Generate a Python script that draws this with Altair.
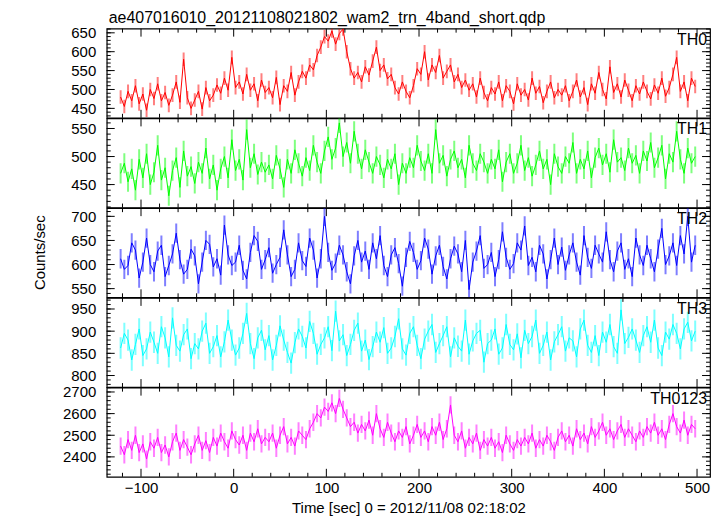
import altair as alt
import pandas as pd

TITLE = "ae407016010_20121108021802_wam2_trn_4band_short.qdp"
X_TITLE = "Time [sec] 0 = 2012/11/08 02:18:02"
Y_TITLE = "Counts/sec"

TIME = list(range(-122, 499, 4))
NAMES = ["TH0", "TH1", "TH2", "TH3", "TH0123"]
COLORS = ["#ff0000", "#00ff00", "#0000ff", "#00ffff", "#ff00ff"]

TH0 = [480, 455, 495, 470, 510, 462, 488, 445, 500, 476,
       515, 470, 492, 458, 485, 520, 466, 580, 478, 450,
       472, 495, 448, 505, 470, 485, 512, 490, 530, 498,
       585, 505, 520, 488, 540, 498, 515, 470, 525, 492,
       505, 478, 532, 460, 510, 495, 545, 485, 520, 548,
       530, 565, 552, 590, 612, 640, 628, 655, 620, 648,
       660, 600, 555, 530, 545, 520, 560, 538, 575, 612,
       550, 565, 528, 540, 505, 488, 520, 495, 478, 510,
       555, 540, 600, 525, 565, 545, 590, 530, 548, 565,
       520, 540, 505, 525, 498, 515, 480, 530, 492, 470,
       505, 488, 520, 470, 510, 495, 462, 515, 485, 500,
       472, 530, 490, 508, 465, 495, 520, 478, 500, 485,
       510, 470, 495, 525, 480, 505, 460, 515, 490, 545,
       500, 475, 560, 492, 515, 480, 525, 498, 470, 510,
       488, 520, 495, 475, 512, 490, 530, 482, 505, 540,
       585, 495, 520, 470, 530, 508]

TH1 = [470, 488, 455, 478, 440, 495, 462, 505, 450, 472,
       520, 458, 480, 430, 475, 498, 445, 510, 465, 482,
       452, 490, 470, 515, 460, 485, 440, 478, 500, 462,
       530, 475, 495, 458, 548, 480, 505, 468, 490, 472,
       485, 460, 502, 478, 445, 495, 470, 512, 488, 465,
       498, 475, 520, 490, 470, 510, 535, 495, 515, 560,
       500, 525, 488, 545, 505, 478, 512, 490, 470, 500,
       485, 462, 495, 478, 505, 450, 488, 470, 498, 480,
       520, 492, 475, 505, 470, 548, 488, 502, 465, 495,
       510, 480, 495, 462, 520, 488, 475, 505, 490, 470,
       495, 478, 512, 455, 490, 505, 470, 488, 520, 475,
       498, 465, 485, 510, 478, 495, 450, 505, 482, 470,
       500, 488, 525, 470, 495, 478, 510, 462, 498, 515,
       485, 505, 472, 530, 490, 498, 475, 515, 488, 502,
       470, 510, 492, 525, 480, 498, 520, 460, 505, 490,
       545, 495, 470, 515, 488, 500]

TH2 = [612, 590, 598, 645, 630, 572, 605, 655, 600, 585,
       628, 640, 575, 598, 622, 665, 610, 580, 590, 632,
       618, 560, 605, 650, 642, 595, 612, 578, 682, 620,
       598, 605, 640, 588, 570, 625, 660, 648, 590, 610,
       635, 582, 600, 615, 672, 620, 575, 590, 645, 608,
       596, 655, 630, 572, 612, 700, 625, 588, 603, 640,
       620, 585, 560, 618, 650, 605, 628, 590, 645, 612,
       660, 598, 575, 620, 635, 602, 555, 615, 648, 625,
       590, 608, 655, 632, 580, 618, 640, 596, 570, 612,
       638, 622, 585, 650, 548, 605, 628, 660, 592, 600,
       625, 575, 610, 668, 615, 590, 602, 645, 630, 680,
       598, 615, 585, 640, 622, 570, 610, 655, 600, 636,
       588, 620, 645, 605, 578, 660, 615, 592, 640, 622,
       605, 668, 610, 585, 628, 645, 590, 612, 575, 655,
       620, 598, 640, 612, 585, 632, 675, 600, 618, 645,
       598, 660, 622, 700, 605, 640]

TH3 = [862, 895, 880, 835, 870, 905, 845, 860, 898, 875,
       850, 910, 885, 842, 930, 868, 855, 892, 905, 838,
       872, 860, 900, 918, 850, 865, 890, 842, 876, 925,
       880, 846, 862, 895, 940, 872, 838, 885, 902, 858,
       890, 835, 868, 912, 880, 852, 828, 874, 905, 888,
       862, 922, 895, 848, 870, 885, 910, 856, 945, 878,
       892, 845, 870, 902, 918, 855, 880, 836, 865, 898,
       875, 908, 850, 862, 888, 928, 860, 846, 895, 910,
       868, 838, 882, 900, 915, 852, 872, 890, 910, 842,
       885, 866, 855, 925, 848, 878, 895, 902, 830, 872,
       880, 905, 848, 862, 915, 870, 858, 894, 840, 902,
       872, 888, 925, 850, 868, 898, 835, 876, 892, 910,
       855, 885, 878, 842, 905, 925, 868, 852, 890, 845,
       898, 875, 915, 865, 850, 948, 872, 886, 905, 880,
       852, 890, 910, 875, 925, 862, 845, 898, 882, 915,
       895, 860, 905, 920, 878, 900]

TH0123 = [2450, 2410, 2480, 2430, 2500, 2420, 2460, 2390, 2470, 2440,
          2490, 2420, 2455, 2400, 2470, 2510, 2430, 2480, 2445, 2410,
          2460, 2500, 2430, 2475, 2420, 2490, 2450, 2510, 2470, 2440,
          2520, 2480, 2455, 2500, 2430, 2510, 2470, 2530, 2460, 2490,
          2470, 2510, 2440, 2500, 2540, 2460, 2490, 2450, 2520, 2500,
          2480, 2530, 2560, 2600, 2580, 2630, 2610, 2650, 2600, 2670,
          2620, 2580, 2540, 2560, 2510, 2550, 2520, 2570, 2500, 2600,
          2530, 2490, 2560, 2510, 2470, 2520, 2490, 2540, 2460, 2500,
          2550, 2490, 2520, 2470, 2540, 2500, 2560, 2480, 2530, 2640,
          2500, 2470, 2520, 2440, 2490, 2460, 2510, 2430, 2480, 2450,
          2490, 2440, 2470, 2420, 2500, 2460, 2430, 2480, 2450, 2490,
          2460, 2510, 2440, 2480, 2450, 2500, 2470, 2430, 2490, 2520,
          2470, 2500, 2450, 2530, 2480, 2510, 2460, 2540, 2490, 2520,
          2560, 2500, 2530, 2480, 2520, 2550, 2490, 2530, 2500, 2470,
          2520, 2490, 2540, 2510, 2560, 2500, 2530, 2480, 2550, 2600,
          2540, 2510, 2570, 2500, 2550, 2530]

SERIES = [TH0, TH1, TH2, TH3, TH0123]
ERRORS = [18, 18, 20, 24, 40]

Y_DOMAINS = [[425, 661], [409, 568], [532, 717], [774, 975], [2308, 2720]]
Y_MAJOR = [[450, 500, 550, 600, 650], [450, 500, 550], [550, 600, 650, 700],
           [800, 850, 900, 950], [2400, 2500, 2600, 2700]]
Y_MINOR_STEP = [10, 10, 10, 10, 20]
X_DOMAIN = [-137, 514]
X_MAJOR = [-100, 0, 100, 200, 300, 400, 500]
X_MINOR = [v for v in range(-120, 501, 20) if v % 100 != 0]

W = 605
H = 89.4
FONT = "Liberation Sans"


def panel(k):
    vals = SERIES[k]
    err = ERRORS[k]
    df = pd.DataFrame({"t": TIME, "v": vals})
    df["lo"] = df["v"] - err
    df["hi"] = df["v"] + err
    lo_d, hi_d = Y_DOMAINS[k]
    xs = alt.Scale(domain=X_DOMAIN, nice=False, zero=False)
    ys = alt.Scale(domain=Y_DOMAINS[k], nice=False, zero=False)
    last = k == len(SERIES) - 1
    if last:
        xaxis = alt.Axis(values=X_MAJOR, ticks=False, domain=False, grid=False,
                         labelFontSize=15, labelPadding=4, labelColor="black",
                         labelFont=FONT, title=X_TITLE, titleFontSize=15,
                         titleFontWeight="normal", titleFont=FONT,
                         titleColor="black", titlePadding=5)
    else:
        xaxis = None
    yaxis = alt.Axis(values=Y_MAJOR[k], ticks=False, domain=False, grid=False,
                     labelFontSize=15, labelPadding=11, labelColor="black",
                     labelFont=FONT, title=None, format="d")
    base = alt.Chart(df)
    bars = base.mark_rule(color=COLORS[k], opacity=0.5, strokeWidth=2,
                          clip=True).encode(
        x=alt.X("t:Q", scale=xs, axis=xaxis),
        y=alt.Y("lo:Q", scale=ys, axis=yaxis),
        y2="hi:Q")
    line = base.mark_line(color=COLORS[k], strokeWidth=1, clip=True).encode(
        x=alt.X("t:Q", scale=xs, axis=None),
        y=alt.Y("v:Q", scale=ys, axis=None))

    layers = [bars, line]

    # inward ticks (y: left + right, x: top + bottom)
    step = Y_MINOR_STEP[k]
    start = (lo_d // step + 1) * step
    y_minor = [v for v in range(int(start), int(hi_d) + 1, step)]
    for vals_t, L in ((y_minor, 4), (Y_MAJOR[k], 8)):
        d = alt.Chart(pd.DataFrame({"y": vals_t}))
        yy = alt.Y("y:Q", scale=ys, axis=None)
        layers.append(d.mark_rule(color="black", strokeWidth=1).encode(
            y=yy, x=alt.value(0), x2=alt.value(L)))
        layers.append(d.mark_rule(color="black", strokeWidth=1).encode(
            y=yy, x=alt.value(W - L), x2=alt.value(W)))
    for vals_t, L in ((X_MINOR, 4), (X_MAJOR, 8)):
        d = alt.Chart(pd.DataFrame({"x": vals_t}))
        xx = alt.X("x:Q", scale=xs, axis=None)
        layers.append(d.mark_rule(color="black", strokeWidth=1).encode(
            x=xx, y=alt.value(0), y2=alt.value(L)))
        layers.append(d.mark_rule(color="black", strokeWidth=1).encode(
            x=xx, y=alt.value(H - L), y2=alt.value(H)))

    lab = alt.Chart(pd.DataFrame({"name": [NAMES[k]]})).mark_text(
        align="right", baseline="top", fontSize=16, font=FONT, color="black"
    ).encode(x=alt.value(W - 3), y=alt.value(3), text="name:N")
    layers.append(lab)

    if k == 0:
        t = alt.Chart(pd.DataFrame({"s": [TITLE]})).mark_text(
            align="left", baseline="bottom", fontSize=16, font=FONT, color="black"
        ).encode(x=alt.value(2), y=alt.value(-3), text="s:N")
        layers.append(t)
    if k == 2:
        yt = alt.Chart(pd.DataFrame({"s": [Y_TITLE]})).mark_text(
            align="center", baseline="middle", fontSize=15, font=FONT,
            color="black", angle=270
        ).encode(x=alt.value(-67), y=alt.value(H / 2), text="s:N")
        layers.append(yt)

    return alt.layer(*layers).resolve_axis(x="independent", y="independent").properties(
        width=W, height=H)


chart = alt.vconcat(*[panel(k) for k in range(len(SERIES))],
                    spacing=0, bounds="flush").properties(
    padding={"left": 24, "top": 0, "right": 5, "bottom": 0},
    background="white",
).configure_view(stroke="black", strokeWidth=1.2)

chart.save("out.html", embed_options={"renderer": "svg", "actions": False})
